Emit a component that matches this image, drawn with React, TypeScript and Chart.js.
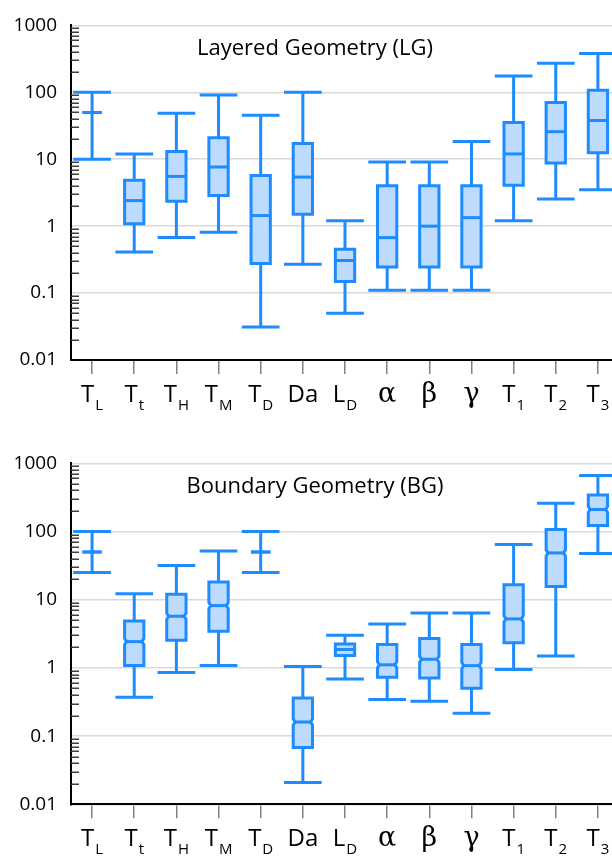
import React, { useEffect, useRef } from 'react';
import { Chart, registerables } from 'chart.js';

Chart.register(...registerables);

// ---- categories / tick labels ----
const labelMain = ['T', 'T', 'T', 'T', 'T', 'Da', 'L', 'α', 'β', 'γ', 'T', 'T', 'T'];
const labelSub = ['L', 't', 'H', 'M', 'D', '', 'D', '', '', '', '1', '2', '3'];
const categoryIds = ['TL', 'Tt', 'TH', 'TM', 'TD', 'Da', 'LD', 'alpha', 'beta', 'gamma', 'T1', 'T2', 'T3'];
const yDecades = [0.01, 0.1, 1, 10, 100, 1000];
const yTickLabels = ['0.01', '0.1', '1', '10', '100', '1000'];
const minorMantissas = [2, 3, 4, 5, 6, 7, 8, 9];
const panelTitles = ['Layered Geometry (LG)', 'Boundary Geometry (BG)'];

// ---- Layered Geometry (LG) ----
const lgMin = [10, 0.41, 0.675, 0.81, 0.031, 0.27, 0.05, 0.11, 0.11, 0.11, 1.2, 2.55, 3.5];
const lgQ1 = [50, 1.09, 2.35, 2.88, 0.277, 1.51, 0.149, 0.245, 0.245, 0.245, 4.09, 8.77, 12.5];
const lgMedian = [50, 2.41, 5.54, 7.66, 1.44, 5.41, 0.307, 0.674, 1.0, 1.34, 12.0, 25.8, 37.9];
const lgQ3 = [50, 4.84, 13.0, 20.9, 5.73, 17.2, 0.45, 4.03, 4.03, 4.03, 35.4, 70.4, 107];
const lgMax = [100, 12.0, 48.5, 91.3, 45.4, 100, 1.2, 9.07, 9.07, 18.4, 175, 272, 381];

// ---- Boundary Geometry (BG) ----
const bgMin = [25, 0.372, 0.855, 1.08, 25, 0.0208, 0.69, 0.343, 0.324, 0.216, 0.945, 1.5, 47.5];
const bgQ1 = [50, 1.08, 2.55, 3.45, 50, 0.068, 1.52, 0.73, 0.713, 0.503, 2.33, 15.6, 122];
const bgMedian = [50, 2.43, 5.72, 8.2, 50, 0.161, 1.86, 1.11, 1.34, 1.08, 5.23, 48.5, 210];
const bgQ3 = [50, 4.89, 12.0, 18.2, 50, 0.363, 2.25, 2.2, 2.69, 2.2, 16.5, 107, 344];
const bgMax = [100, 12.2, 31.7, 51.9, 100, 1.05, 3.01, 4.42, 6.4, 6.4, 64.3, 260, 661];

const STROKE = '#1E8CFF';
const FILL = '#BDDBFD';
const GRID = '#D9D9D9';
const TEXT_FONT = '"Open Sans"';
const GREEK_FONT = '"DejaVu Serif"';

const isDecade = (v: number) => yDecades.some((d) => Math.abs(Math.log10(d) - Math.log10(v)) < 1e-6);
const tickValues: number[] = [];
yDecades.forEach((d, i) => {
  tickValues.push(d);
  if (i < yDecades.length - 1) minorMantissas.forEach((m) => tickValues.push(d * m));
});

type PanelProps = {
  title: string;
  mins: number[];
  q1s: number[];
  meds: number[];
  q3s: number[];
  maxs: number[];
  notched: boolean;
  top: number;
  height: number;
  padTop: number;
  axisH: number;
};

function BoxPanel(p: PanelProps) {
  const ref = useRef<HTMLCanvasElement | null>(null);

  useEffect(() => {
    const canvas = ref.current;
    if (!canvas) return;

    const drawPlugin = {
      id: 'boxdraw',
      afterDatasetsDraw(chart: any) {
        const { ctx } = chart;
        const xs = chart.scales.x;
        const ys = chart.scales.y;
        const meta = chart.getDatasetMeta(0);
        const band = xs.getPixelForValue(1) - xs.getPixelForValue(0);
        const capHalf = band * 0.447;
        ctx.save();
        ctx.lineWidth = 3;
        ctx.strokeStyle = STROKE;
        ctx.lineCap = 'butt';
        ctx.lineJoin = 'miter';
        for (let i = 0; i < p.meds.length; i++) {
          const el = meta.data[i];
          const cx = el.x;
          const half = el.width / 2;
          const yMin = ys.getPixelForValue(p.mins[i]);
          const yMax = ys.getPixelForValue(p.maxs[i]);
          const yQ1 = ys.getPixelForValue(p.q1s[i]);
          const yQ3 = ys.getPixelForValue(p.q3s[i]);
          const yMed = ys.getPixelForValue(p.meds[i]);
          // whiskers
          ctx.beginPath();
          ctx.moveTo(cx, yMax);
          ctx.lineTo(cx, yQ3);
          ctx.moveTo(cx, yQ1);
          ctx.lineTo(cx, yMin);
          ctx.moveTo(cx - capHalf, yMax);
          ctx.lineTo(cx + capHalf, yMax);
          ctx.moveTo(cx - capHalf, yMin);
          ctx.lineTo(cx + capHalf, yMin);
          ctx.stroke();
          // box
          const l = cx - half;
          const r = cx + half;
          const boxH = yQ1 - yQ3;
          const d = p.notched && boxH > 14 ? 2 : 0;
          const h = 3;
          ctx.beginPath();
          if (d > 0) {
            ctx.moveTo(l, yQ3);
            ctx.lineTo(r, yQ3);
            ctx.lineTo(r, yMed - h);
            ctx.lineTo(r - d, yMed);
            ctx.lineTo(r, yMed + h);
            ctx.lineTo(r, yQ1);
            ctx.lineTo(l, yQ1);
            ctx.lineTo(l, yMed + h);
            ctx.lineTo(l + d, yMed);
            ctx.lineTo(l, yMed - h);
            ctx.closePath();
          } else {
            ctx.rect(l, yQ3, r - l, yQ1 - yQ3);
          }
          ctx.fillStyle = FILL;
          ctx.fill();
          ctx.stroke();
          // median
          ctx.beginPath();
          ctx.moveTo(l + d, yMed);
          ctx.lineTo(r - d, yMed);
          ctx.stroke();
        }
        ctx.restore();
      },
      afterDraw(chart: any) {
        const { ctx, chartArea } = chart;
        const xs = chart.scales.x;
        const ys = chart.scales.y;
        ctx.save();
        // inward minor ticks on y axis
        ctx.strokeStyle = '#404040';
        ctx.lineWidth = 1.5;
        ctx.beginPath();
        tickValues.forEach((v) => {
          if (isDecade(v)) return;
          const yy = Math.round(ys.getPixelForValue(v)) + 0.25;
          ctx.moveTo(chartArea.left, yy);
          ctx.lineTo(chartArea.left + 8, yy);
        });
        ctx.stroke();
        // category labels with subscripts
        ctx.fillStyle = '#000';
        ctx.textBaseline = 'alphabetic';
        ctx.textAlign = 'left';
        for (let i = 0; i < labelMain.length; i++) {
          const cx = xs.getPixelForValue(i);
          const main = labelMain[i];
          const sub = labelSub[i];
          const greek = /[α-ω]/.test(main);
          const mainFont = greek ? `27px ${GREEK_FONT}` : `24px ${TEXT_FONT}`;
          const subFont = `15px ${TEXT_FONT}`;
          ctx.font = mainFont;
          const mw = ctx.measureText(main).width;
          ctx.font = subFont;
          const sw = sub ? ctx.measureText(sub).width + 1 : 0;
          const x0 = cx - (mw + sw) / 2;
          ctx.font = mainFont;
          ctx.fillText(main, x0, chartArea.bottom + 42);
          if (sub) {
            ctx.font = subFont;
            ctx.fillText(sub, x0 + mw + 1, chartArea.bottom + 50);
          }
        }
        // panel title
        ctx.font = `22px ${TEXT_FONT}`;
        ctx.textAlign = 'center';
        ctx.fillText(p.title, 315, chartArea.top + 30);
        ctx.restore();
      },
    };

    const chart = new Chart(canvas, {
      type: 'bar',
      data: {
        labels: categoryIds,
        datasets: [
          {
            label: p.title,
            data: p.q1s.map((q, i) => [q, p.q3s[i]]) as any,
            backgroundColor: FILL,
            borderWidth: 0,
            barPercentage: 0.458,
            categoryPercentage: 1,
          },
        ],
      },
      options: {
        animation: false,
        responsive: false,
        devicePixelRatio: 1,
        layout: { padding: { top: p.padTop, left: 0, right: 1, bottom: 0 } },
        plugins: { legend: { display: false }, tooltip: { enabled: false }, title: { display: false } },
        scales: {
          x: {
            type: 'category',
            offset: true,
            grid: {
              display: true,
              offset: false,
              drawOnChartArea: false,
              drawTicks: true,
              tickLength: 14,
              color: '#808080',
              lineWidth: 1.5,
            },
            border: { display: true, color: '#000', width: 2 },
            ticks: { display: false },
            afterFit: (s: any) => {
              s.height = p.axisH;
            },
          },
          y: {
            type: 'logarithmic',
            min: 0.01,
            max: 1000,
            afterBuildTicks: (s: any) => {
              s.ticks = tickValues.map((v) => ({ value: v }));
            },
            afterFit: (s: any) => {
              s.width = 71;
            },
            grid: {
              drawTicks: false,
              lineWidth: 1.5,
              color: (c: any) => (c.tick && isDecade(c.tick.value) ? GRID : 'rgba(0,0,0,0)'),
            },
            border: { display: true, color: '#000', width: 2 },
            ticks: {
              autoSkip: false,
              padding: 14,
              color: '#000',
              font: { family: 'Open Sans', size: 19 },
              callback: (v: any) => {
                const idx = yDecades.findIndex((d) => Math.abs(Math.log10(d) - Math.log10(Number(v))) < 1e-6);
                return idx >= 0 ? yTickLabels[idx] : '';
              },
            },
          },
        },
      },
      plugins: [drawPlugin],
    } as any);
    return () => chart.destroy();
  }, []);

  return (
    <canvas
      ref={ref}
      width={620}
      height={p.height}
      style={{ position: 'absolute', left: 0, top: p.top, width: 620, height: p.height, display: 'block' }}
    />
  );
}

export default function App() {
  return (
    <div
      style={{
        position: 'fixed',
        left: 0,
        top: 0,
        width: 612,
        height: 862,
        overflow: 'hidden',
        background: '#fff',
      }}
    >
      <BoxPanel
        title={panelTitles[0]}
        mins={lgMin}
        q1s={lgQ1}
        meds={lgMedian}
        q3s={lgQ3}
        maxs={lgMax}
        notched={false}
        top={0}
        height={430}
        padTop={19.3}
        axisH={70}
      />
      <BoxPanel
        title={panelTitles[1]}
        mins={bgMin}
        q1s={bgQ1}
        meds={bgMedian}
        q3s={bgQ3}
        maxs={bgMax}
        notched={true}
        top={430}
        height={432}
        padTop={33.3}
        axisH={57.7}
      />
    </div>
  );
}
